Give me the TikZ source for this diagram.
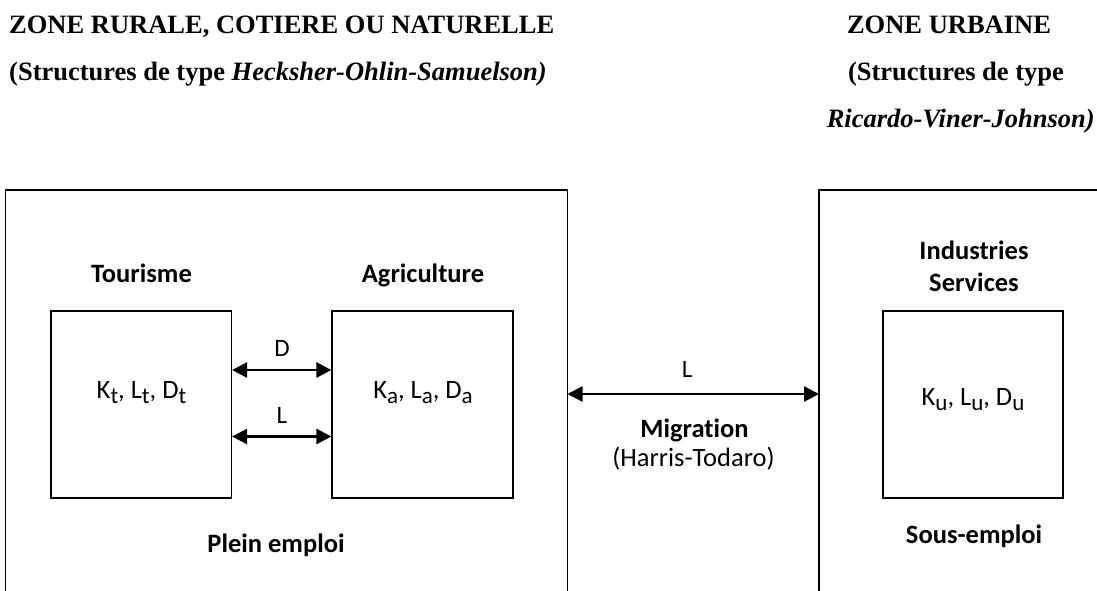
\documentclass[tikz,border=0pt]{standalone}
\usepackage{fontspec}
\setmainfont{Liberation Serif}
\newfontfamily\calfont[Ligatures=NoCommon]{Carlito}
\usetikzlibrary{arrows.meta}
\newcommand\lsub[1]{\raisebox{-0.2em}{\fontsize{23}{23}\selectfont #1}}
\tikzset{
  head/.style={font=\fontsize{26.5}{30}\selectfont\bfseries, inner sep=0pt},
  lab/.style={font=\calfont\fontsize{26.5}{30}\selectfont, inner sep=0pt, anchor=base},
  blab/.style={font=\calfont\fontsize{26.5}{30}\selectfont\bfseries, inner sep=0pt, anchor=base},
  slab/.style={font=\calfont\fontsize{25}{28}\selectfont, inner sep=0pt, anchor=base},
  sector/.style={draw, line width=1.2pt, inner sep=0pt},
  zone/.style={line width=1.2pt},
  arr/.style={line width=2.6pt, {Triangle[length=15pt,width=15pt]}-{Triangle[length=15pt,width=15pt]}}
}
\begin{document}
\begin{tikzpicture}[x=1pt,y=-1pt]
\useasboundingbox[fill=white] (0,0) rectangle (1097,590);
% headings
\node[head, anchor=base west] (h1) at (9,33) {ZONE RURALE, COTIERE OU NATURELLE};
\node[head, anchor=base west] (h2) at (9,80) {(Structures de type \textit{Hecksher-Ohlin-Samuelson)}};
\node[head, anchor=base] (h3) at (949,33) {ZONE URBAINE};
\node[head, anchor=base] (h4) at (956,80) {(Structures de type};
\node[head, anchor=base east] (h5) at (1095,127) {\textit{Ricardo-Viner-Johnson)}};
% zones
\coordinate (rl) at (5.7,190);
\coordinate (rr) at (567.5,190);
\coordinate (ul) at (819,190);
\draw[zone] (rl |- 0,620) -- (rl) -- (rr) -- (rr |- 0,620);
\draw[zone] (ul |- 0,620) -- (ul) -- (1120,190);
% sector boxes
\node[sector, minimum width=180.5pt, minimum height=187pt] (tb) at (141.25,404.5) {};
\node[sector, minimum width=181pt, minimum height=187pt] (ab) at (422.5,404.5) {};
\node[sector, minimum width=180pt, minimum height=187pt] (ub) at (973,404.5) {};
% sector titles
\node[blab] (tt) at (141.5,282) {Tourisme};
\node[blab] (at) at (423,282) {Agriculture};
\node[blab] (it) at (974,259) {Industries};
\node[blab] (st) at (974,291) {Services};
% box contents
\node[lab] (tc) at (141.5,398) {K\lsub{t}, L\lsub{t}, D\lsub{t}};
\node[lab] (ac) at (423,398) {K\lsub{a}, L\lsub{a}, D\lsub{a}};
\node[lab] (uc) at (973,405) {K\lsub{u}, L\lsub{u}, D\lsub{u}};
% arrows between sectors
\coordinate (yd) at (0,370);
\coordinate (yl) at (0,436.5);
\coordinate (ym) at (0,394);
\draw[arr] (tb.east |- yd) -- (ab.west |- yd);
\draw[arr] (tb.east |- yl) -- (ab.west |- yl);
\node[slab] (dl) at (282,356) {D};
\node[slab] (ll) at (282,423) {L};
% migration
\draw[arr] (rr |- ym) -- (ul |- ym);
\node[slab] (ml) at (687,377) {L};
\node[blab] (mg) at (694.5,437) {Migration};
\node[lab] (ht) at (693.5,466) {(Harris-Todaro)};
% employment
\node[blab] (pe) at (276,552) {Plein emploi};
\node[blab] (se) at (974,543) {Sous-emploi};
\end{tikzpicture}
\end{document}
